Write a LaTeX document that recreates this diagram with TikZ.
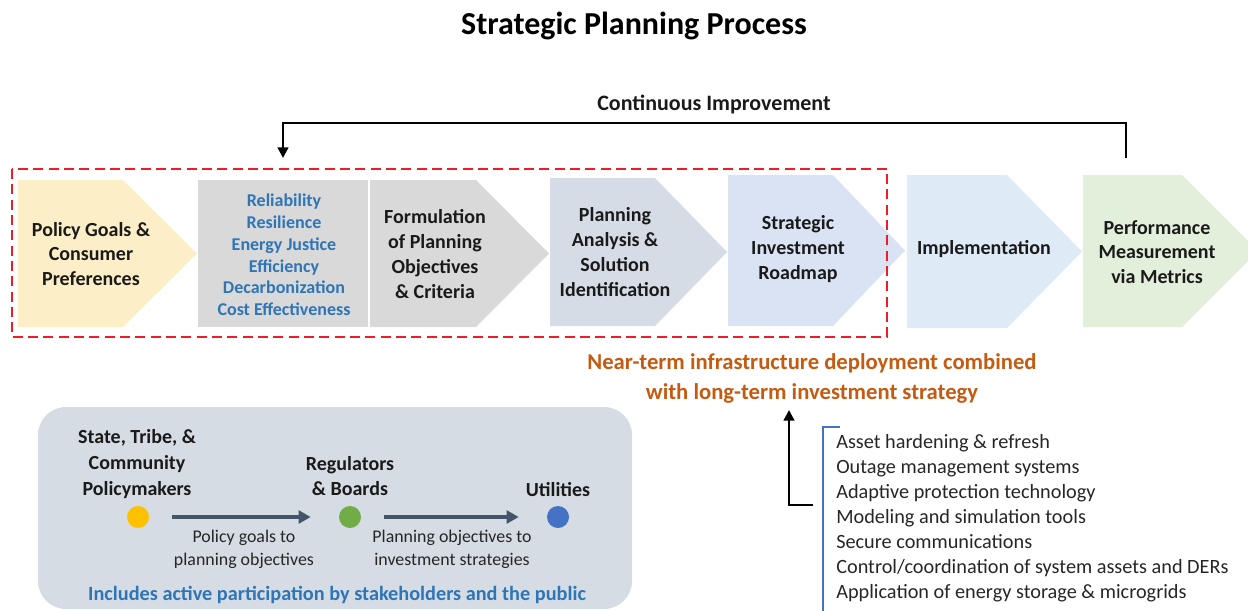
\documentclass[tikz,border=0pt]{standalone}
\usepackage{fontspec}
\setmainfont{Carlito}
\usetikzlibrary{arrows.meta}

\definecolor{txt}{HTML}{1A1A1A}
\definecolor{listtxt}{HTML}{262626}
\definecolor{accblue}{HTML}{2E75B6}
\definecolor{accorange}{HTML}{C55A11}
\definecolor{cYellow}{HTML}{FCEEC7}
\definecolor{cGray}{HTML}{D9D9D9}
\definecolor{cSlate}{HTML}{D6DCE5}
\definecolor{cLav}{HTML}{DAE3F3}
\definecolor{cSky}{HTML}{DEEBF7}
\definecolor{cGreen}{HTML}{E2EFDA}
\definecolor{panel}{HTML}{D6DCE4}
\definecolor{flow}{HTML}{44546A}
\definecolor{dashred}{HTML}{EE1C25}
\definecolor{dotY}{HTML}{FFC000}
\definecolor{dotG}{HTML}{70AD47}
\definecolor{dotB}{HTML}{4472C4}

\tikzset{
  boxtext/.style={align=center, inner sep=0pt, text=txt,
    font=\fontsize{15}{18.6}\selectfont\bfseries},
  criteria/.style={align=center, inner sep=0pt, text=accblue,
    font=\fontsize{13.5}{16.35}\selectfont\bfseries},
  actor/.style={align=center, inner sep=0pt, text=txt,
    font=\fontsize{15}{19.3}\selectfont\bfseries},
  flowlabel/.style={align=center, inner sep=0pt, text=listtxt,
    font=\fontsize{13.4}{17.2}\selectfont},
  dotnode/.style={circle, inner sep=0pt, minimum size=16.5pt},
  flowarrow/.style={draw=flow, line width=2.3pt,
    -{Triangle[length=9pt,width=9.5pt]}},
  loopline/.style={draw=black, line width=1.8pt,
    -{Triangle[length=8pt,width=8pt]}},
}

\begin{document}
\begin{tikzpicture}[x=0.75pt,y=-0.75pt]
\useasboundingbox (0,0) rectangle (1248,610);

% title
\node[inner sep=0pt, text=black, font=\fontsize{24}{28}\selectfont\bfseries]
  (title) at (634,26) {Strategic Planning Process};

% process chevrons
\fill[cYellow] (18,180) -- (123,180) -- (197,253.5) -- (123,327) -- (18,327) -- cycle;
\fill[cGray]   (198,180) rectangle (368,327);
\fill[cGray]   (370,180) -- (476,180) -- (549,253.5) -- (476,327) -- (370,327) -- cycle;
\fill[cSlate]  (550,178) -- (655,178) -- (727,252) -- (655,326) -- (550,326) -- cycle;
\fill[cLav]    (728,175) -- (833,175) -- (905,250.5) -- (833,326) -- (728,326) -- cycle;
\fill[cSky]    (907,175) -- (1007,175) -- (1082,251.5) -- (1007,328) -- (907,328) -- cycle;
\fill[cGreen]  (1083,175) -- (1182,175) -- (1258,251) -- (1182,327) -- (1083,327) -- cycle;

\node[boxtext] (policy) at (91,254) {Policy Goals \&\\Consumer\\Preferences};
\node[criteria] (crit) at (284,255) {Reliability\\Resilience\\Energy Justice\\Efficiency\\Decarbonization\\Cost Effectiveness};
\node[boxtext] (formul) at (435,254) {Formulation\\of Planning\\Objectives\\\& Criteria};
\node[boxtext] (analysis) at (615,252) {Planning\\Analysis \&\\Solution\\Identification};
\node[boxtext] (roadmap) at (798,249) {Strategic\\Investment\\Roadmap};
\node[boxtext] (impl) at (984,249) {Implementation};
\node[boxtext] (perf) at (1157,252) {Performance\\Measurement\\via Metrics};

% planning scope
\draw[dashred, line width=2pt, dash pattern=on 7.5pt off 4pt]
  (12,169) rectangle (887,337);

% continuous improvement loop
\node[inner sep=0pt, text=txt, font=\fontsize{16.5}{20}\selectfont\bfseries]
  (ci) at (714,104) {Continuous Improvement};
\coordinate (ciR) at (1126,158);
\coordinate (ciL) at (283,158);
\draw[loopline] (ciR) -- (1126,123) -| (ciL);

% near-term / long-term note
\node[align=center, inner sep=0pt, text=accorange,
  font=\fontsize{17}{22}\selectfont\bfseries]
  (strategy) at (812,378.5) {Near-term infrastructure deployment combined\\with long-term investment strategy};

% technology list with bracket
\draw[dotB, line width=1.2pt] (840,427) -- (823,427) -- (823,612);
\node[anchor=west, align=left, inner sep=0pt, text=listtxt,
  font=\fontsize{15.2}{18.75}\selectfont]
  (techs) at (836,518) {Asset hardening \& refresh\\Outage management systems\\Adaptive protection technology\\Modeling and simulation tools\\Secure communications\\Control/coordination of system assets and DERs\\Application of energy storage \& microgrids};
\coordinate (upStart) at (813,505);
\coordinate (upTip) at (789,410);
\draw[loopline] (upStart) -| (upTip);

% stakeholder panel
\fill[panel, rounded corners=21pt] (38,407) rectangle (632,609);
\node[actor] (statepol) at (137,464) {State, Tribe, \&\\Community\\Policymakers};
\node[actor] (regs) at (350,476) {Regulators\\\& Boards};
\node[actor] (utils) at (558,490) {Utilities};
\node[dotnode, fill=dotY] (dotS) at (138,517) {};
\node[dotnode, fill=dotG] (dotR) at (350,517) {};
\node[dotnode, fill=dotB] (dotU) at (558,517) {};
\draw[flowarrow, shorten <=17pt, shorten >=21pt] (dotS) -- (dotR);
\draw[flowarrow, shorten <=17pt, shorten >=21pt] (dotR) -- (dotU);
\node[flowlabel] (lab1) at (244,549.5) {Policy goals to\\planning objectives};
\node[flowlabel] (lab2) at (452,549.5) {Planning objectives to\\investment strategies};
\node[inner sep=0pt, text=accblue, font=\fontsize{15.2}{18}\selectfont\bfseries]
  (public) at (337,595) {Includes active participation by stakeholders and the public};

\end{tikzpicture}
\end{document}
